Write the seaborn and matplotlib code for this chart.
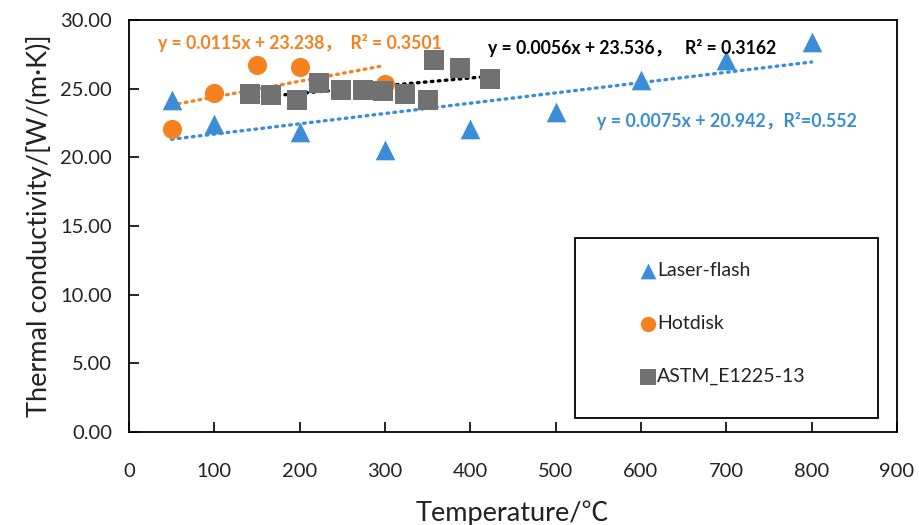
import numpy as np
import pandas as pd
import matplotlib
matplotlib.use("Agg")
import matplotlib.pyplot as plt
import seaborn as sns
from matplotlib.patches import Rectangle
from matplotlib.ticker import FormatStrFormatter, MultipleLocator

# ---- data ----
laser_T = [50, 100, 200, 300, 400, 500, 600, 700, 800]
laser_k = [24.2, 22.45, 21.85, 20.5, 22.1, 23.3, 25.6, 27.1, 28.4]

hot_T = [50, 100, 150, 200, 300]
hot_k = [22.05, 24.65, 26.7, 26.6, 25.35]

astm_T = [142, 167, 197, 223, 249, 274, 298, 324, 350, 358, 388, 423]
astm_k = [24.6, 24.55, 24.15, 25.4, 24.9, 24.9, 24.8, 24.6, 24.2, 27.1, 26.5, 25.7]

# trendline coefficients printed on the chart
laser_fit = (0.0075, 20.942)
hot_fit = (0.0115, 23.238)
astm_fit = (0.0056, 23.536)

labels = ["Laser-flash", "Hotdisk", "ASTM_E1225-13"]
eq_texts = ["y = 0.0075x + 20.942，R²=0.552",
            "y = 0.0115x + 23.238，  R² = 0.3501",
            "y = 0.0056x + 23.536，   R² = 0.3162"]

BLUE = "#3a8dd6"
ORANGE = "#f5821f"
GRAY = "#717171"

sns.set_theme(style="white")
plt.rcParams['font.family'] = ['Lato', 'Noto Sans CJK SC', 'DejaVu Sans']

fig = plt.figure(figsize=(9.19, 5.25), dpi=100)
ax = fig.add_axes([0.1402, 0.1771, 0.976 - 0.1402, 0.9619 - 0.1771])

# trendlines
def trend(xs, fit, color):
    x0, x1 = min(xs), max(xs)
    xx = np.array([x0, x1])
    yy = fit[0] * xx + fit[1]
    sns.lineplot(x=xx, y=yy, ax=ax, color=color, lw=2.4,
                 linestyle=(0, (0.5, 1.6)), dash_capstyle='round',
                 zorder=3, legend=False)

trend(laser_T, laser_fit, BLUE)
trend(hot_T, hot_fit, ORANGE)
trend(astm_T, astm_fit, "black")

sns.scatterplot(x=laser_T, y=laser_k, ax=ax, marker="^", s=200, color=BLUE,
                edgecolor=BLUE, linewidth=0, label=labels[0], zorder=4)
sns.scatterplot(x=hot_T, y=hot_k, ax=ax, marker="o", s=190, color=ORANGE,
                edgecolor=ORANGE, linewidth=0, label=labels[1], zorder=4)
sns.scatterplot(x=astm_T, y=astm_k, ax=ax, marker="s", s=190, color=GRAY,
                edgecolor=GRAY, linewidth=0, label=labels[2], zorder=5)

ax.set_xlim(0, 900)
ax.set_ylim(0, 30)
ax.xaxis.set_major_locator(MultipleLocator(100))
ax.yaxis.set_major_locator(MultipleLocator(5))
ax.yaxis.set_major_formatter(FormatStrFormatter('%.2f'))
ax.tick_params(axis='both', direction='in', length=7, width=1.2, color='black',
               labelsize=14.5, labelcolor='#222222', bottom=True, left=True,
               top=False, right=False)
ax.tick_params(axis='x', pad=22)
ax.tick_params(axis='y', pad=12)
for sp in ax.spines.values():
    sp.set_color('black')
    sp.set_linewidth(1.3)

ax.set_xlabel("Temperature/℃", fontsize=19.5, color='#222222', labelpad=15)
ax.set_ylabel("Thermal conductivity/[W/(m·K)]", fontsize=19.5, color='#222222', labelpad=6)

# equations
ax.text(34, 28.33, eq_texts[1], color=ORANGE, fontsize=12.7, fontweight='bold',
        va='center', ha='left', zorder=6)
ax.text(421, 27.97, eq_texts[2], color='black', fontsize=12.7, fontweight='bold',
        va='center', ha='left', zorder=6)
ax.text(548, 22.65, eq_texts[0], color=BLUE, fontsize=12.8, fontweight='bold',
        va='center', ha='left', zorder=6)

# legend
leg = ax.legend(loc='upper left', bbox_to_anchor=(0.64, 0.455), frameon=False,
                fontsize=14, labelspacing=1.85, handletextpad=0.0,
                handlelength=1.0, markerscale=0.8)
for t in leg.get_texts():
    t.set_color('#222222')
ax.add_patch(Rectangle((0.581, 0.034), 0.975 - 0.581, 0.471 - 0.034,
                       transform=ax.transAxes, fill=False, edgecolor='black',
                       lw=1.3, zorder=7))

fig.savefig("out.png", dpi=100)
